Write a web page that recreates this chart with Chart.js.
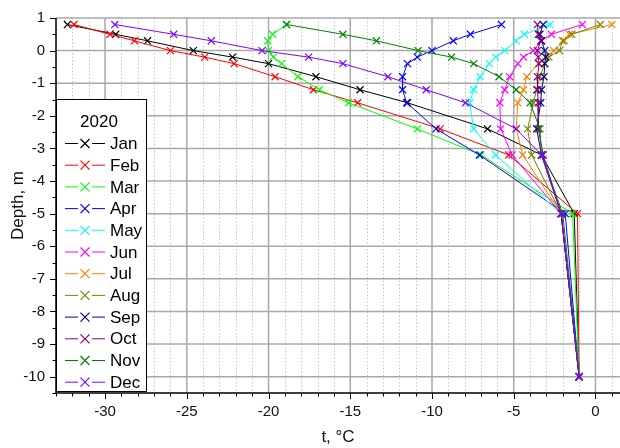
<!DOCTYPE html>
<html>
<head>
<meta charset="utf-8">
<script src="https://cdn.jsdelivr.net/npm/chart.js@4.4.1/dist/chart.umd.min.js"></script>
<style>
  html, body { margin: 0; padding: 0; background: #fff; }
  #wrap { width: 620px; height: 448px; }
</style>
</head>
<body>
<div id="wrap"><canvas id="profile" width="620" height="448"></canvas></div>
<script>
// depths of the sensors, m
const depths = [0.8, 0.5, 0.3, 0, -0.2, -0.4, -0.8, -1.2, -1.6, -2.4, -3.2, -5, -10];

// monthly temperature profiles, degC (one value per depth)
const months = ["Jan", "Feb", "Mar", "Apr", "May", "Jun", "Jul", "Aug", "Sep", "Oct", "Nov", "Dec"];
const tJan = [-32.3, -29.35, -27.4, -24.6, -22.2, -20.0, -17.1, -14.4, -11.5, -6.6, -3.3, -1.3, -1.0];
const tFeb = [-31.9, -29.7, -28.2, -26.0, -23.9, -22.1, -19.6, -17.25, -14.55, -9.5, -5.3, -1.1, -1.0];
const tMar = [-18.9, -19.75, -20.05, -20.0, -19.7, -19.2, -18.2, -16.9, -15.1, -10.9, -7.0, -1.4, -1.0];
const tApr = [-5.75, -7.65, -8.7, -10.0, -10.9, -11.5, -11.8, -11.8, -11.55, -9.75, -7.1, -1.85, -1.0];
const tMay = [-2.8, -4.35, -4.85, -5.55, -6.1, -6.5, -7.05, -7.45, -7.7, -7.45, -6.1, -2.1, -1.0];
const tJun = [-0.8, -2.7, -3.3, -3.8, -4.4, -4.75, -5.25, -5.55, -5.85, -5.8, -5.1, -2.1, -1.0];
const tJul = [1.0, -1.6, -1.9, -2.55, -3.0, -3.5, -4.2, -4.4, -4.75, -4.85, -4.45, -2.1, -1.0];
const tAug = [0.3, -1.45, -2.0, -2.2, -2.85, -3.1, -3.4, -3.6, -3.8, -4.15, -3.9, -2.1, -1.0];
const tSep = [-3.2, -3.4, -3.3, -3.1, -3.05, -3.1, -3.15, -3.3, -3.35, -3.6, -3.3, -2.1, -1.0];
const tOct = [-3.55, -3.5, -3.35, -3.55, -3.5, -3.45, -3.55, -3.55, -3.5, -3.5, -3.2, -2.1, -1.0];
const tNov = [-18.9, -15.45, -13.4, -10.85, -8.8, -7.45, -5.9, -4.85, -4.0, -3.4, -3.3, -2.0, -1.0];
const tDec = [-29.4, -25.8, -23.5, -20.4, -17.55, -15.45, -12.7, -10.35, -7.95, -4.85, -3.3, -2.1, -1.0];

const series = [tJan, tFeb, tMar, tApr, tMay, tJun, tJul, tAug, tSep, tOct, tNov, tDec];
const colors = ["#000000", "#ff0000", "#00ff00", "#0000ff", "#00ffff", "#ff00ff",
                "#ff8000", "#808000", "#000080", "#800080", "#008000", "#8000ff"];

// axis ranges and ticks
const xMin = -33, xMax = 1.5;
const yMin = -10.5, yMax = 1;
const xTickLabels = [-30, -25, -20, -15, -10, -5, 0];
const yTickLabels = [1, 0, -1, -2, -3, -4, -5, -6, -7, -8, -9, -10];
const legendTitle = "2020";

const FONT = "'Liberation Sans', Arial, sans-serif";

const datasets = series.map((vals, i) => ({
    label: months[i],
    data: vals.map((t, k) => ({ x: t, y: depths[k] })),
    borderColor: colors[i],
    backgroundColor: colors[i],
    borderWidth: 1,
    pointStyle: "crossRot",
    pointRadius: 5,
    pointBorderWidth: 1.2,
    showLine: true,
    tension: 0,
    order: 11 - i
}));

// grid, axis frame, tick marks and the boxed legend
const framePlugin = {
    id: "frame",
    afterLayout(chart) {
        // let the plot run to the right edge of the canvas, like the original
        const x = chart.scales.x, a = chart.chartArea;
        x.right = chart.width;
        x.width = x.right - x.left;
        x.configure();
        a.right = chart.width;
        a.width = a.right - a.left;
    },
    beforeDatasetsDraw(chart) {
        const { ctx, chartArea: a, scales: { x, y } } = chart;
        ctx.save();
        // minor dotted verticals every 1 deg
        ctx.strokeStyle = "#c4c4c4";
        ctx.lineWidth = 1;
        ctx.setLineDash([1.5, 2]);
        for (let v = Math.ceil(xMin); v <= xMax; v++) {
            if (v % 5 === 0) continue;
            const px = Math.round(x.getPixelForValue(v)) + 0.5;
            ctx.beginPath(); ctx.moveTo(px, a.top); ctx.lineTo(px, a.bottom); ctx.stroke();
        }
        ctx.setLineDash([]);
        ctx.strokeStyle = "#a8a8a8";
        ctx.lineWidth = 1.5;
        xTickLabels.forEach(v => {
            const px = x.getPixelForValue(v);
            ctx.beginPath(); ctx.moveTo(px, a.top); ctx.lineTo(px, a.bottom); ctx.stroke();
        });
        yTickLabels.forEach(v => {
            const py = y.getPixelForValue(v);
            ctx.beginPath(); ctx.moveTo(a.left, py); ctx.lineTo(a.right, py); ctx.stroke();
        });
        ctx.restore();
    },
    afterDatasetsDraw(chart) {
        const { ctx, chartArea: a, scales: { x, y } } = chart;
        ctx.save();
        ctx.strokeStyle = "#000";
        ctx.lineWidth = 1.5;
        ctx.beginPath();
        ctx.moveTo(a.left, a.top); ctx.lineTo(a.left, a.bottom); ctx.lineTo(a.right, a.bottom);
        ctx.stroke();
        ctx.lineWidth = 1;
        // x ticks
        for (let v = Math.ceil(xMin); v <= xMax; v++) {
            const px = Math.round(x.getPixelForValue(v)) + 0.5;
            const len = v % 5 === 0 ? 6 : 3.5;
            ctx.beginPath(); ctx.moveTo(px, a.bottom); ctx.lineTo(px, a.bottom + len); ctx.stroke();
        }
        // y ticks
        for (let v = yMin; v <= yMax; v += 0.5) {
            const py = Math.round(y.getPixelForValue(v)) + 0.5;
            const len = Number.isInteger(v) ? 6 : 3.5;
            ctx.beginPath(); ctx.moveTo(a.left, py); ctx.lineTo(a.left - len, py); ctx.stroke();
        }

        // legend box
        const bx = 56.5, by = 99.5, bw = 90, bh = 292;
        ctx.fillStyle = "#fff";
        ctx.fillRect(bx, by, bw, bh);
        ctx.strokeStyle = "#000";
        ctx.lineWidth = 1;
        ctx.strokeRect(bx, by, bw, bh);
        ctx.fillStyle = "#000";
        ctx.font = "17px " + FONT;
        ctx.textAlign = "center";
        ctx.textBaseline = "middle";
        ctx.fillText(legendTitle, 99, 122);
        ctx.textAlign = "left";
        months.forEach((m, i) => {
            const ly = 143.5 + i * 21.7;
            ctx.strokeStyle = colors[i];
            ctx.lineWidth = 1;
            ctx.beginPath(); ctx.moveTo(65, ly); ctx.lineTo(78, ly); ctx.moveTo(92, ly); ctx.lineTo(105, ly); ctx.stroke();
            ctx.lineWidth = 1.2;
            const r = 4.5;
            ctx.beginPath();
            ctx.moveTo(85 - r, ly - r); ctx.lineTo(85 + r, ly + r);
            ctx.moveTo(85 + r, ly - r); ctx.lineTo(85 - r, ly + r);
            ctx.stroke();
            ctx.fillStyle = "#000";
            ctx.fillText(m, 110, ly + 1);
        });
        ctx.restore();
    }
};

new Chart(document.getElementById("profile"), {
    type: "scatter",
    data: { datasets: datasets },
    options: {
        responsive: false,
        animation: false,
        devicePixelRatio: 1,
        layout: { padding: { top: 18, right: 0, left: 0, bottom: 0 } },
        plugins: { legend: { display: false }, tooltip: { enabled: false } },
        scales: {
            x: {
                type: "linear",
                min: xMin, max: xMax,
                afterBuildTicks: s => { s.ticks = xTickLabels.map(v => ({ value: v })); },
                afterFit: s => { s.height = 55; s.paddingLeft = 0; s.paddingRight = 0; },
                grid: { display: false, drawTicks: false },
                border: { display: false },
                ticks: {
                    autoSkip: false, maxRotation: 0,
                    padding: 10,
                    color: "#111",
                    font: { family: FONT, size: 15 },
                    callback: v => String(v)
                },
                title: {
                    display: true, text: "t, \u00B0C",
                    color: "#111",
                    font: { family: FONT, size: 17 },
                    padding: { top: 0, bottom: 0 }
                }
            },
            y: {
                type: "linear",
                min: yMin, max: yMax,
                afterBuildTicks: s => { s.ticks = yTickLabels.map(v => ({ value: v })); },
                afterFit: s => { s.width = 56; s.paddingTop = 0; s.paddingBottom = 0; },
                grid: { display: false, drawTicks: false },
                border: { display: false },
                ticks: {
                    autoSkip: false,
                    padding: 11,
                    color: "#111",
                    font: { family: FONT, size: 15 },
                    callback: v => String(v)
                },
                title: {
                    display: true, text: "Depth, m",
                    color: "#111",
                    font: { family: FONT, size: 17 },
                    padding: { top: 8, bottom: 0 }
                }
            }
        }
    },
    plugins: [framePlugin]
});
</script>
</body>
</html>
